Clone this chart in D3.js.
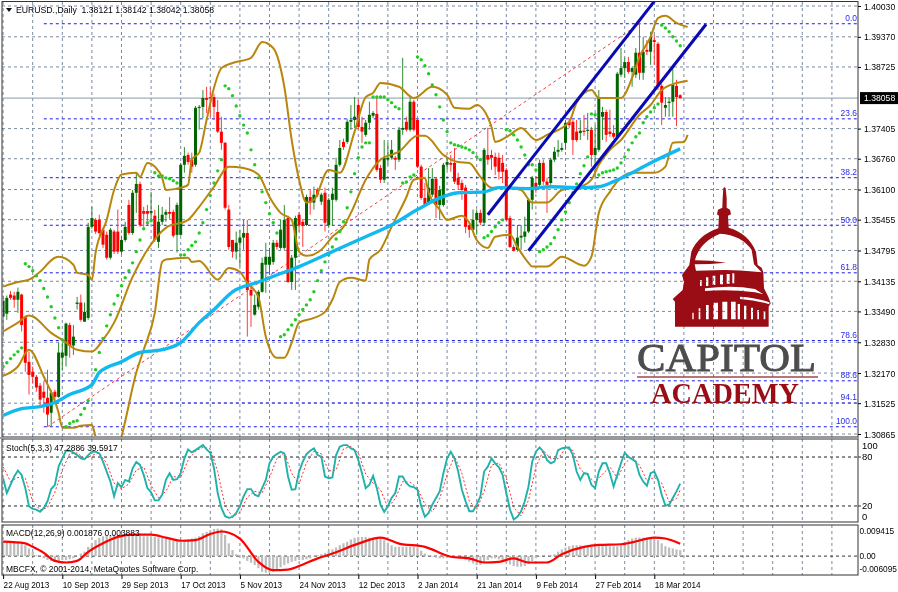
<!DOCTYPE html>
<html><head><meta charset="utf-8">
<script src="https://cdnjs.cloudflare.com/ajax/libs/d3/7.8.5/d3.min.js"></script>
<style>html,body{margin:0;padding:0;background:#fff;overflow:hidden}svg{display:block;filter:blur(0.3px)}text{font-family:"Liberation Sans",Arial,sans-serif;font-size:9.4px;fill:#000}</style>
</head><body><div id="c"></div>
<script>
// Prices are in 0.0001 units (13806 = 1.3806)
const opens=[13338,13344,13385,13383,13374,13385,13338,13241,13220,13209,13190,13177,13164,13132,13177,13166,13250,13254,13320,13276,13365,13368,13327,13335,13530,13545,13545,13524,13513,13464,13520,13520,13477,13502,13577,13517,13603,13622,13564,13564,13560,13554,13498,13541,13556,13562,13562,13513,13513,13663,13684,13674,13663,13785,13787,13806,13808,13808,13776,13734,13710,13567,13502,13477,13496,13507,13517,13395,13342,13359,13391,13449,13449,13455,13496,13485,13485,13549,13412,13464,13556,13541,13534,13594,13582,13609,13584,13603,13534,13588,13588,13663,13712,13712,13755,13759,13791,13744,13727,13753,13768,13772,13656,13631,13674,13678,13678,13674,13738,13755,13738,13798,13759,13659,13592,13582,13599,13633,13577,13577,13663,13667,13667,13635,13624,13614,13534,13524,13545,13560,13539,13684,13684,13680,13678,13667,13652,13549,13487,13481,13507,13509,13520,13588,13624,13620,13667,13627,13624,13674,13691,13695,13710,13755,13755,13734,13731,13736,13736,13738,13684,13695,13766,13776,13734,13731,13723,13856,13870,13883,13862,13856,13903,13860,13909,13905,13930,13922,13832,13785,13796,13798,13832,13812];
const highs=[13383,13383,13393,13391,13400,13387,13340,13263,13231,13213,13196,13199,13224,13181,13181,13282,13282,13325,13325,13320,13380,13385,13368,13539,13573,13549,13556,13528,13520,13528,13524,13567,13511,13541,13588,13609,13646,13627,13573,13577,13605,13567,13577,13573,13567,13594,13567,13582,13667,13701,13689,13689,13789,13791,13823,13830,13828,13815,13802,13766,13712,13577,13502,13520,13524,13545,13545,13410,13385,13395,13464,13496,13485,13502,13502,13545,13577,13554,13470,13554,13562,13545,13599,13609,13616,13614,13603,13614,13592,13614,13678,13716,13719,13761,13791,13808,13802,13766,13759,13798,13778,13808,13663,13716,13710,13716,13682,13744,13892,13766,13808,13802,13763,13663,13624,13656,13656,13637,13618,13667,13680,13684,13699,13646,13631,13620,13539,13567,13567,13567,13699,13742,13695,13689,13689,13684,13656,13554,13492,13534,13534,13552,13592,13639,13639,13674,13674,13635,13678,13701,13716,13710,13759,13763,13759,13759,13759,13770,13774,13744,13748,13823,13787,13781,13781,13748,13862,13913,13892,13894,13873,13913,13967,13937,13930,13948,13941,13926,13836,13808,13808,13870,13845,13814];
const lows=[13295,13331,13374,13357,13346,13306,13220,13171,13194,13177,13145,13132,13102,13102,13160,13164,13224,13231,13250,13256,13353,13327,13327,13331,13526,13515,13513,13485,13460,13460,13472,13472,13472,13498,13513,13513,13560,13530,13530,13534,13541,13498,13485,13534,13541,13545,13507,13475,13511,13646,13663,13646,13659,13738,13763,13774,13766,13759,13731,13695,13567,13481,13464,13460,13445,13481,13295,13316,13340,13353,13389,13389,13428,13449,13481,13481,13481,13410,13395,13395,13520,13487,13532,13556,13567,13594,13577,13520,13528,13534,13584,13659,13695,13708,13738,13742,13738,13710,13723,13738,13763,13648,13624,13624,13663,13674,13652,13669,13727,13734,13734,13734,13656,13588,13575,13577,13594,13549,13545,13573,13652,13648,13622,13609,13588,13517,13507,13520,13513,13534,13534,13663,13652,13641,13631,13624,13541,13485,13477,13477,13481,13496,13517,13567,13603,13616,13620,13560,13620,13669,13680,13691,13695,13742,13684,13712,13716,13725,13716,13659,13637,13691,13716,13712,13723,13719,13719,13851,13849,13858,13830,13849,13845,13845,13898,13877,13877,13823,13748,13766,13766,13766,13746,13804];
const closes=[13372,13378,13378,13374,13391,13320,13239,13213,13209,13186,13160,13164,13128,13175,13166,13261,13261,13323,13276,13295,13368,13331,13348,13530,13549,13520,13517,13492,13464,13524,13477,13477,13502,13530,13517,13603,13622,13534,13558,13558,13564,13502,13541,13556,13562,13558,13511,13577,13663,13682,13669,13659,13785,13787,13806,13802,13806,13787,13734,13710,13571,13487,13477,13496,13507,13517,13395,13383,13363,13391,13453,13466,13466,13496,13487,13524,13545,13412,13464,13549,13534,13532,13594,13582,13599,13599,13599,13539,13588,13601,13663,13699,13701,13755,13759,13766,13744,13734,13753,13770,13774,13652,13631,13678,13678,13695,13674,13738,13742,13738,13798,13738,13659,13592,13579,13614,13633,13577,13609,13663,13669,13663,13627,13620,13609,13530,13524,13545,13560,13539,13695,13674,13678,13659,13648,13648,13545,13487,13479,13507,13511,13520,13588,13635,13609,13667,13627,13620,13674,13691,13695,13699,13753,13748,13716,13716,13736,13734,13738,13684,13699,13806,13776,13727,13729,13723,13858,13870,13883,13862,13870,13903,13860,13905,13905,13937,13926,13830,13796,13791,13798,13834,13808,13806];
const sar=[13231,13239,13248,13256,13263,13271,13451,13445,13436,13425,13415,13398,13380,13359,13335,13314,13288,13102,13109,13113,13115,13128,13141,13158,13192,13224,13261,13291,13318,13342,13365,13383,13404,13421,13436,13453,13477,13502,13526,13539,13543,13646,13639,13639,13635,13633,13629,13624,13470,13470,13481,13490,13498,13517,13539,13567,13597,13624,13650,13674,13832,13826,13811,13789,13768,13748,13731,13695,13663,13635,13605,13582,13558,13539,13517,13295,13299,13310,13320,13331,13342,13353,13363,13374,13391,13415,13436,13455,13470,13487,13504,13520,13541,13571,13605,13644,13678,13701,13710,13710,13808,13808,13808,13808,13802,13796,13787,13783,13624,13626,13637,13641,13894,13888,13875,13858,13834,13813,13787,13759,13734,13710,13706,13704,13701,13699,13695,13689,13680,13674,13507,13511,13520,13530,13539,13545,13738,13736,13727,13716,13701,13684,13663,13663,13652,13477,13481,13487,13494,13507,13524,13545,13562,13582,13603,13622,13644,13661,13680,13772,13770,13641,13646,13648,13650,13652,13656,13667,13680,13695,13710,13723,13731,13753,13766,13776,13785,13793,13962,13956,13948,13937,13928,13918];
const bbUpperBars=[0,4,7,10,14,15,19,20,23,24,25,28,30,32,36,37,39,41,43,44,48,50,51,53,55,57,59,62,67,70,73,76,78,80,82,84,88,91,95,98,100,102,107,111,116,120,122,126,128,132,133,137,140,144,147,153,155,159,161,164,167,170,172,175,177,179,182,185];
const bbUpper=[13402,13412,13417,13434,13464,13466,13449,13432,13427,13417,13475,13545,13609,13642,13646,13637,13667,13659,13635,13609,13614,13620,13674,13689,13759,13828,13870,13881,13892,13926,13913,13830,13716,13631,13582,13588,13652,13646,13734,13808,13817,13838,13830,13806,13830,13813,13785,13783,13791,13744,13712,13727,13742,13716,13727,13755,13796,13823,13806,13806,13806,13849,13894,13937,13977,13982,13967,13958];
const bbMiddleBars=[0,4,7,8,13,16,20,24,27,30,35,39,44,50,53,57,61,65,69,72,75,78,80,82,86,89,92,94,98,102,107,112,114,119,123,126,129,132,136,140,143,147,151,156,159,161,164,167,172,175,178,182,185];
const bbMiddle=[13306,13325,13340,13338,13303,13288,13267,13263,13288,13325,13423,13481,13528,13545,13573,13616,13659,13656,13642,13594,13560,13545,13477,13468,13481,13509,13530,13560,13631,13674,13691,13725,13725,13684,13669,13667,13637,13614,13614,13609,13582,13582,13609,13616,13631,13663,13695,13716,13770,13791,13823,13838,13843];
const bbLowerBars=[0,4,7,11,15,16,19,21,24,25,28,30,32,36,38,41,43,44,50,51,53,58,61,64,66,69,71,74,76,78,80,84,87,89,91,94,98,99,102,105,109,111,114,115,118,120,124,126,128,131,133,137,139,142,143,147,151,157,159,161,164,167,170,176,179,181,184,185];
const bbLower=[13211,13231,13267,13209,13132,13100,13100,13104,13106,13081,13040,13030,13081,13218,13267,13346,13455,13460,13464,13455,13457,13417,13442,13434,13410,13380,13295,13250,13250,13282,13325,13335,13348,13374,13412,13421,13415,13460,13481,13530,13594,13631,13635,13603,13567,13545,13554,13539,13502,13485,13509,13513,13487,13453,13445,13445,13466,13447,13466,13560,13605,13635,13646,13646,13659,13710,13712,13727];
const maBars=[0,5,10,14,18,24,26,32,37,43,48,53,57,62,69,74,80,89,98,105,112,118,123,130,134,142,148,156,161,165,169,175,183];
const ma=[13126,13141,13145,13154,13171,13192,13218,13241,13261,13267,13282,13325,13353,13391,13412,13427,13445,13477,13509,13534,13567,13592,13603,13605,13614,13612,13616,13614,13616,13627,13642,13667,13697];
const stochMain=[54.1,35.9,46,56.1,63.4,58.1,41.9,19.7,16.4,15.6,12.8,17.6,25.7,40.7,46,68.2,78.4,87.7,87.7,85.3,82.4,78.4,77.2,82.4,86.5,86.5,84.5,74.3,62.2,50,31.8,48,43.1,52,50,66.2,73.9,70.3,58.1,41.9,36.7,26.9,26.9,33.8,52,60.2,52,52.9,60.2,78.4,89.3,85.7,88.5,91.7,94.6,89.3,85.3,66.2,35.9,17.6,7.5,5.5,6.7,11.5,19.7,31.8,40.7,40.7,33.8,31.8,41.9,52,72.3,80.4,83.6,86.5,84.5,56.1,39.9,40.7,62.2,74.3,83.6,87.7,90.5,82.4,80.4,56.1,54.1,54.9,82.4,92.6,94.6,94.6,90.5,88.5,76.4,60.2,41.9,46,56.9,41.9,21.7,12.8,19.7,29.8,35.9,56.1,56.1,48,43.9,43.1,39.9,19.7,6.7,11.5,21.7,29.8,37.9,60.2,78.4,86.5,78.4,62.2,39.9,25.7,13.6,13.6,21.7,31.8,62.2,68.2,78.4,72.3,67.4,58.1,35.9,15.6,3.5,6.7,13.6,25.7,43.9,74.3,86.5,91.7,86.5,76.4,72.3,74.3,88.5,90.5,91.7,91.7,82.4,62.2,52,60.2,59.3,46,41.9,62.2,72.3,72.3,60.2,43.9,58.1,72.3,85.3,80.4,77.2,74.3,58.1,50,44.8,60.2,62.2,52,33.8,20.5,21.7,29.8,37.9,47.3];
const stochSignalBars=[0,2,4,6,8,10,12,14,16,18,20,22,24,26,28,30,32,34,36,38,40,42,44,46,48,50,52,54,56,58,60,62,64,66,68,70,72,74,76,78,80,82,84,86,88,90,92,94,96,98,100,102,104,106,108,110,112,114,116,118,120,122,124,126,128,130,132,134,136,138,140,142,144,146,148,150,152,154,156,158,160,162,164,166,168,170,172,174,176,178,180,182,183];
const stochSignal=[68,50,55,54,26,15,18,37,64,84,85,78,82,85,72,48,41,47,64,68,45,30,38,56,55,76,87,92,90,62,20,7,12,31,38,36,55,78,85,60,47,73,87,84,63,64,90,93,85,59,48,40,18,29,50,49,42,22,13,29,59,81,60,26,16,38,70,73,54,18,8,27,68,88,78,78,91,88,65,57,49,59,68,54,72,80,70,51,55,48,25,29,39.6];
// MACD values in 0.001 units
const macdHist=[4.5,4.5,4.5,4.5,4.5,4,3.4,2.4,1.4,.3,0,-.7,-1.2,-1.5,-1.5,-1.5,-1.2,-1.2,-1,-.7,0,.8,1.4,2.9,4,5,5.7,6.2,6.4,6.6,6.7,6.6,6.6,6.6,6.6,6.4,6.4,6.4,6.2,6.2,6.2,6,5.8,5.7,5.5,5.2,4.8,4.5,4.5,4.8,5.2,5.5,5.8,6.2,7.1,7.6,8.1,8.5,8.6,8.4,6.6,4,1.9,.6,0,-.7,-1.5,-2.1,-2.8,-3.8,-4.9,-5.2,-5.2,-4.9,-4.4,-3.5,-2.8,-2.3,-1.8,-1.5,-1.2,-1.2,-1,-.7,-.2,.3,.6,1,1.7,2.1,2.7,3.4,4,4.5,5.2,5.7,6,6,6,5.8,5.8,5.8,5.5,5,4.2,3.4,2.9,2.9,2.9,2.9,2.9,2.9,2.7,1.7,.8,.3,-.2,-.5,-.7,-.7,-.5,-.2,0,-.2,-.7,-1.2,-1.8,-2.3,-2.8,-2.8,-2.1,-1.2,-.7,-.7,-1,-1.5,-2.1,-2.6,-3.1,-3.3,-3.3,-3.1,-2.5,-1.6,-.7,-.2,0,0,.3,.6,1.4,2.1,2.7,3.1,3.4,3.4,3.4,3.1,3.1,3.1,3.1,3.4,3.4,3.4,3.1,3.1,3.1,3.4,4.5,5,5.5,5.8,5.8,5.8,5.8,6,6,5,4,3.1,2.7,2.4,2.1,1.9];
const macdSignalBars=[0,6,8,11,14,17,20,23,27,31,35,40,44,48,52,56,59,61,64,69,73,77,80,85,89,96,102,107,114,121,126,130,134,138,142,147,151,157,161,167,170,176,179,183];
const macdSignal=[4.5,4,2.9,1,-1.5,-2,-1.5,1.3,4,6,6.7,6.7,5.8,4.8,5,6.9,7.7,7.3,5.5,-1.8,-4.4,-4.2,-3.1,-.7,.8,3.9,5.8,3.9,2.9,-.2,-.7,-2,-1.8,-.7,-2,-2,.6,2.9,3.5,3.7,4.3,5.8,5.5,3.9];
const priceTicks=[14003,13937,13872.5,13805.8,13740.5,13676,13610,13545.5,13479.5,13413.5,13349,13283,13217,13152.5,13086.5];
const fibLevels=[0,23.6,38.2,50,61.8,78.6,88.6,94.1,100];
const fibHigh=13965, fibLow=13102, fibStartBar=11, fibTrendBars=[12,172];
const channelUpperBars=[131,176], channelUpper=[13556,14013];
const channelLowerBars=[142,190], channelLower=[13479,13964];
const dateLabels=["22 Aug 2013","10 Sep 2013","29 Sep 2013","17 Oct 2013","5 Nov 2013","24 Nov 2013","12 Dec 2013","2 Jan 2014","21 Jan 2014","9 Feb 2014","27 Feb 2014","18 Mar 2014"];
const stochLevels=[100,80,20,0];
const macdAxis=[9.415,0,-6.095];
const lastPrice=13805.8;
const W=898,H=592,L=2,R=858;
const x=d3.scaleLinear().domain([0,183]).range([3.1,680.2]);
const y=d3.scaleLinear().domain([13086.5,14003]).range([434,6]);
const yS=d3.scaleLinear().domain([0,100]).range([522.3,440.7]);
const yM=d3.scaleLinear().domain([-6.095,9.415]).range([575.6,526]);
const squeeze=(sel,k)=>sel.each(function(){const n=this.getComputedTextLength();d3.select(this).attr("textLength",n*k).attr("lengthAdjust","spacingAndGlyphs");});
const svg=d3.select("#c").append("svg").attr("width",W).attr("height",H);
svg.append("rect").attr("width",W).attr("height",H).attr("fill","#fff");
const defs=svg.append("defs");
defs.append("clipPath").attr("id","cp").append("rect").attr("x",L+1).attr("y",2).attr("width",R-L-1).attr("height",434);
defs.append("clipPath").attr("id","cps").append("rect").attr("x",L+1).attr("y",440).attr("width",R-L-1).attr("height",82);
const gridCol="#7a8aa0";
const vBars=d3.range(0,232,8).filter(b=>x(b)<R);
[[2,437],[439,522],[525,575]].forEach(([a,b])=>{
 svg.append("g").selectAll("line").data(vBars).join("line").attr("x1",d=>x(d)).attr("x2",d=>x(d)).attr("y1",a).attr("y2",b).attr("stroke",gridCol).attr("stroke-width",1).attr("stroke-dasharray","3,3");
});
svg.append("g").selectAll("line").data(priceTicks.filter(p=>p!==lastPrice)).join("line").attr("x1",L).attr("x2",R).attr("y1",d=>y(d)).attr("y2",d=>y(d)).attr("stroke",gridCol).attr("stroke-dasharray","3,3");
const main=svg.append("g").attr("clip-path","url(#cp)");
const fibY=l=>fibHigh-(fibHigh-fibLow)*l/100;
main.append("g").selectAll("line").data(fibLevels).join("line").attr("x1",x(fibStartBar)).attr("x2",R).attr("y1",d=>y(fibY(d))).attr("y2",d=>y(fibY(d))).attr("stroke","#1a1aee").attr("stroke-width",1).attr("stroke-dasharray","3,3");
main.append("line").attr("x1",x(fibTrendBars[0])).attr("x2",x(fibTrendBars[1])).attr("y1",y(fibLow)).attr("y2",y(fibHigh)).attr("stroke","#f04040").attr("stroke-dasharray","3,3");
main.append("line").attr("x1",L).attr("x2",R).attr("y1",y(lastPrice)).attr("y2",y(lastPrice)).attr("stroke","#8a9aaa").attr("stroke-width",1);
const bars=d3.range(opens.length);
const up=i=>closes[i]>=opens[i];
main.append("g").selectAll("line").data(bars).join("line").attr("x1",i=>x(i)).attr("x2",i=>x(i)).attr("y1",i=>y(highs[i])).attr("y2",i=>y(lows[i])).attr("stroke",i=>up(i)?"#2f8a2f":"#ff3b3b").attr("stroke-width",1);
main.append("g").selectAll("rect").data(bars).join("rect").attr("x",i=>x(i)-1.5).attr("width",3).attr("y",i=>y(Math.max(opens[i],closes[i]))).attr("height",i=>Math.max(1.2,Math.abs(y(opens[i])-y(closes[i])))).attr("fill",i=>up(i)?"#006400":"#ff0000");
const lineOf=(xs,ys,c)=>{const l=d3.line().x((d,i)=>x(xs[i])).y(d=>y(d));if(c)l.curve(c);return l(ys);};
[[bbUpperBars,bbUpper],[bbMiddleBars,bbMiddle],[bbLowerBars,bbLower]].forEach(([a,b])=>main.append("path").attr("d",lineOf(a,b,d3.curveMonotoneX)).attr("fill","none").attr("stroke","#b8860b").attr("stroke-width",2));
main.append("g").selectAll("circle").data(sar).join("circle").attr("cx",(d,i)=>x(i)).attr("cy",d=>y(d)).attr("r",1.7).attr("fill","#22cc22");
main.append("path").attr("d",lineOf(maBars,ma,d3.curveMonotoneX)).attr("fill","none").attr("stroke","#12b8f0").attr("stroke-width",3.4);
[[channelUpperBars,channelUpper],[channelLowerBars,channelLower]].forEach(([a,b])=>main.append("path").attr("d",lineOf(a,b)).attr("fill","none").attr("stroke","#0a0ab4").attr("stroke-width",3));
squeeze(svg.append("g").selectAll("text").data(fibLevels).join("text").attr("x",R-1).attr("y",d=>y(fibY(d))-2.5).attr("text-anchor","end").style("fill","#2a2af0").text(d=>d.toFixed(1)),.9);
// logo (dome cut-outs show the chart grid through)
const logo=svg.append("g");
const red="#9b0d14";
const win=[[90,285,5,18],[108,277,7,26],[128,272,8,28],[150,269,9,29],[170,267,9,29],[187,265,6,30],[67,383,4,20],[86,370,5,33],[108,360,8,43],[130,353,14,50],[157,350,15,53],[183,350,14,53],[203,357,7,46],[222,362,7,41],[243,368,6,35],[262,375,5,28],[281,378,5,25]];
const dome="M158,40 L160,10 Q163,4 167,10 L170,40 L170,68 L180,74 L183,88 L174,92 L176,128 Q235,145 258,200 L263,240 L275,248 L280,262 L282,310 L295,335 L302,355 L296,365 L296,425 L15,425 L15,350 L8,342 L38,315 L42,290 L36,270 L58,240 L64,200 Q85,150 145,130 L147,92 L141,88 L144,74 L157,68 Z "
+"M75,226 Q88,172 150,146 Q215,150 245,195 L252,238 L275,262 Q200,255 165,255 L78,257 L74,238 Q120,238 168,233 Q120,226 75,226 Z "
+"M105,310 Q190,300 255,312 L280,328 L255,322 Q180,312 105,318 Z M210,335 Q260,338 298,352 L298,358 Q255,345 210,342 Z "
+win.map(d=>`M${d[0]},${d[1]}h${d[2]}v${d[3]}h${-d[2]}Z`).join(" ");
logo.append("path").attr("transform","translate(670,185) scale(0.3333)").attr("fill",red).attr("fill-rule","evenodd").attr("d",dome);
logo.append("text").attr("x",637).attr("y",371).attr("textLength",179).attr("lengthAdjust","spacingAndGlyphs").style("font-family","'Liberation Serif',serif").style("font-size","41px").style("fill","#4d4d4d").style("stroke","#4d4d4d").style("stroke-width","1").text("CAPITOL");
logo.append("line").attr("x1",637).attr("x2",818).attr("y1",377).attr("y2",377).attr("stroke","#a5474a").attr("stroke-width",1.4);
logo.append("text").attr("x",651).attr("y",403).attr("textLength",148).attr("lengthAdjust","spacingAndGlyphs").style("font-family","'Liberation Serif',serif").style("font-weight","bold").style("font-size","30px").style("fill",red).text("ACADEMY");
svg.append("path").attr("d","M6,8 L12,8 L9,12 Z").attr("fill","#111");
squeeze(svg.append("text").attr("x",16).attr("y",13).attr("xml:space","preserve").text("EURUSD.,Daily  1.38121 1.38142 1.38042 1.38058"),.925);
svg.append("g").selectAll("line").data(stochLevels.slice(1,3)).join("line").attr("x1",L).attr("x2",R).attr("y1",d=>yS(d)).attr("y2",d=>yS(d)).attr("stroke","#222").attr("stroke-dasharray","3,3");
const st=svg.append("g").attr("clip-path","url(#cps)");
st.append("path").attr("d",d3.line().x((d,i)=>x(stochSignalBars[i])).y(d=>yS(d))(stochSignal)).attr("fill","none").attr("stroke","#ff3030").attr("stroke-dasharray","2,2");
st.append("path").attr("d",d3.line().x((d,i)=>x(i)).y(d=>yS(d))(stochMain)).attr("fill","none").attr("stroke","#20b2aa").attr("stroke-width",1.9);
squeeze(svg.append("text").attr("x",6).attr("y",451).text("Stoch(5,3,3) 47.2886 39.5917"),.9);
svg.append("line").attr("x1",L).attr("x2",R).attr("y1",yM(0)).attr("y2",yM(0)).attr("stroke","#333").attr("stroke-dasharray","3,3");
svg.append("g").selectAll("line").data(macdHist).join("line").attr("x1",(d,i)=>x(i)).attr("x2",(d,i)=>x(i)).attr("y1",yM(0)).attr("y2",d=>yM(d)).attr("stroke","#bdbdbd").attr("stroke-width",2.2);
svg.append("path").attr("d",d3.line().x((d,i)=>x(macdSignalBars[i])).y(d=>yM(d)).curve(d3.curveMonotoneX)(macdSignal)).attr("fill","none").attr("stroke","#ff0000").attr("stroke-width",2.2);
squeeze(svg.append("text").attr("x",6).attr("y",536).text("MACD(12,26,9) 0.001876 0.003883"),.9);
squeeze(svg.append("text").attr("x",6).attr("y",572).text("MBCFX, © 2001-2014, MetaQuotes Software Corp."),.9);
[[L,1.5,R-L,435.5],[L,439,R-L,83],[L,525,R-L,50]].forEach(r=>svg.append("rect").attr("x",r[0]).attr("y",r[1]).attr("width",r[2]).attr("height",r[3]).attr("fill","none").attr("stroke","#333"));
svg.append("rect").attr("x",0).attr("y",437).attr("width",R+1).attr("height",2).attr("fill","#999");
const axG=svg.append("g").attr("transform",`translate(${R},0)`).call(d3.axisRight(y).tickValues(priceTicks.filter(p=>p!==lastPrice)).tickSize(3).tickPadding(3).tickFormat(d=>(d/1e4).toFixed(5)));
axG.select(".domain").remove();
axG.selectAll("text").style("font-family",'"Liberation Sans"').style("font-size","9.4px").style("fill","#000");
squeeze(axG.selectAll("text"),.92);
svg.append("rect").attr("x",860).attr("y",y(lastPrice)-6).attr("width",38).attr("height",12).attr("fill","#000");
squeeze(svg.append("text").attr("x",864).attr("y",y(lastPrice)+3.2).style("fill","#fff").text((lastPrice/1e4).toFixed(5)),.92);
const clamp=(v,a,b)=>Math.max(a,Math.min(b,v));
svg.append("g").selectAll("text").data(stochLevels).join("text").attr("x",862).attr("y",d=>clamp(yS(d),446,517)+3).text(d=>d);
svg.append("g").selectAll("line").data(stochLevels.slice(1,3)).join("line").attr("x1",R).attr("x2",R+3).attr("y1",d=>yS(d)).attr("y2",d=>yS(d)).attr("stroke","#333");
svg.append("g").selectAll("text").data(macdAxis).join("text").attr("x",859.5).attr("y",d=>clamp(yM(d),531,569)+3).style("font-size","8.3px").text(d=>d===0?"0.00":(d/1000).toFixed(6));
const dateBars=dateLabels.map((d,i)=>i*16);
const dx=svg.append("g").attr("transform","translate(0,575)").call(d3.axisBottom(x).tickValues(dateBars).tickSize(4).tickPadding(3).tickFormat((d,i)=>dateLabels[i]));
dx.select(".domain").remove();
dx.selectAll("text").attr("text-anchor","start").attr("dy",0).attr("y",12.5).style("font-family",'"Liberation Sans"').style("font-size","9.4px").style("fill","#000");
squeeze(dx.selectAll("text"),.87);
</script></body></html>
